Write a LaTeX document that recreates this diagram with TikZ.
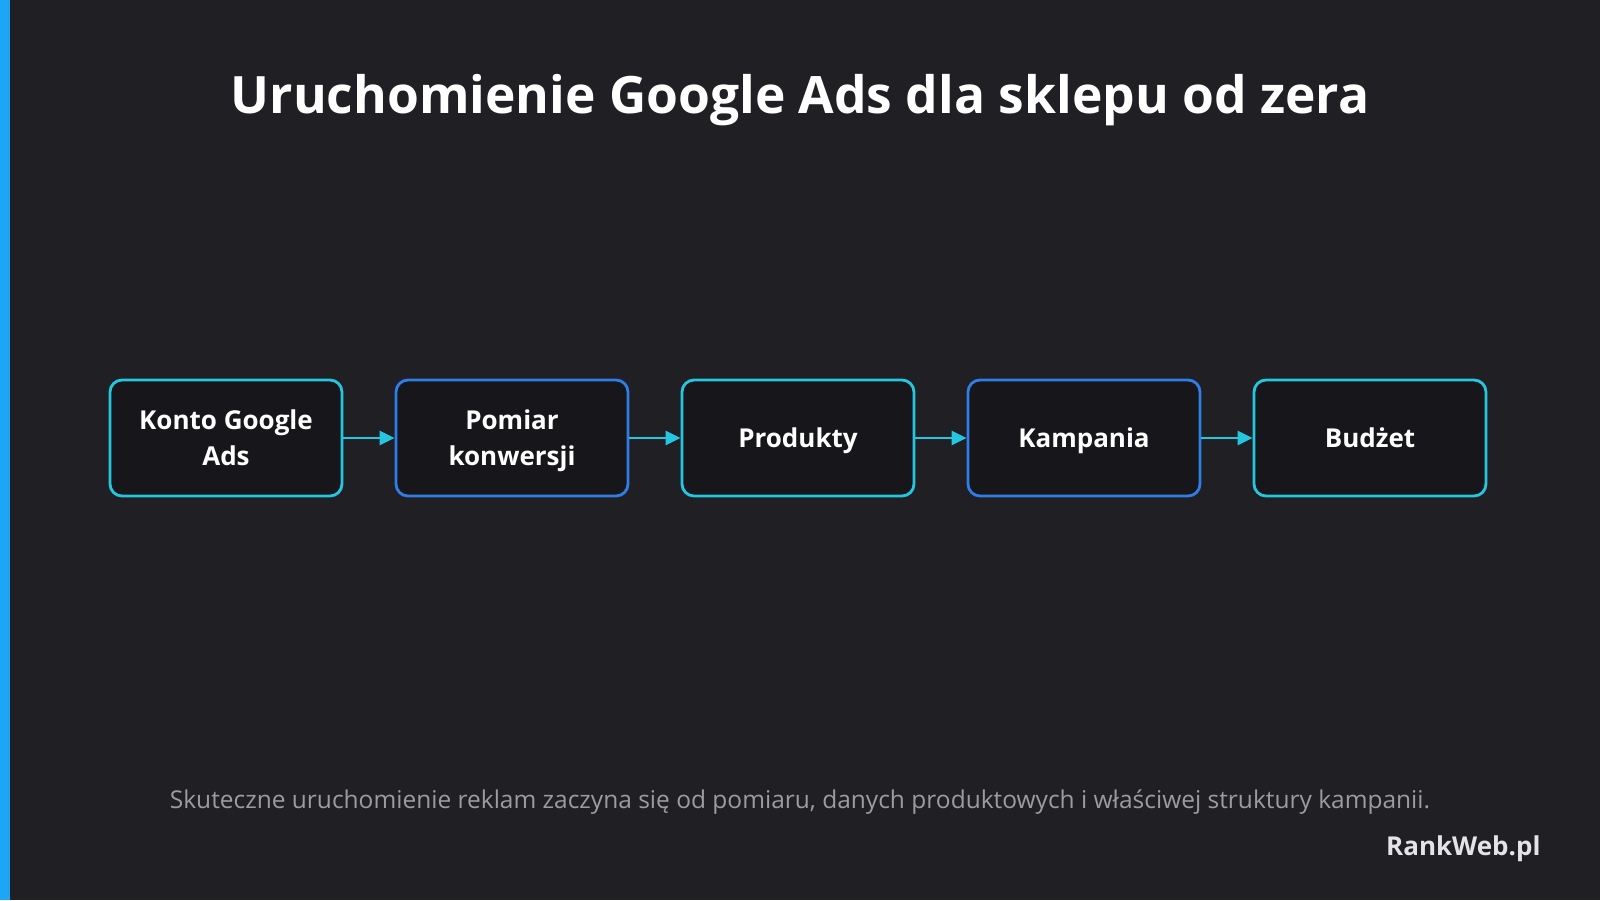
\documentclass[tikz,border=0pt]{standalone}
\usepackage{fontspec}
\setmainfont{Open Sans}
\usepackage{xcolor}
\usepackage{tikz}
\usetikzlibrary{arrows.meta, positioning}

\definecolor{bgdark}{HTML}{202024}
\definecolor{boxfill}{HTML}{17171B}
\definecolor{stepcyan}{HTML}{25C6E0}
\definecolor{stepblue}{HTML}{2F7DE6}
\definecolor{barblue}{HTML}{1DA6F5}
\definecolor{notegray}{HTML}{9B9BA0}
\definecolor{brandgray}{HTML}{E4E4E8}
\newcommand\boxstrut{\rule[-8.8pt]{0pt}{36pt}}

\begin{document}
\begin{tikzpicture}[x=1pt,y=-1pt]
    \tikzset{stage/.style = {shape=rectangle,rounded corners=12pt,draw,line width=2.8pt,fill=boxfill,
        minimum width=232pt,minimum height=116pt,align=center,text=white,font=\fontsize{26}{36}\selectfont\bfseries}}
    \tikzset{edge/.style = {-{Triangle[length=15pt,width=14pt]},line width=2.6pt,draw=stepcyan}}
    % background
    \fill[bgdark] (0,0) rectangle (1600,900);
    \fill[barblue] (0,0) rectangle (10,900);
    \useasboundingbox (0,0) rectangle (1600,900);
    % title
    \node[text=white,font=\fontsize{51.5}{60}\selectfont\bfseries] (title) at (800,100) {Uruchomienie Google Ads dla sklepu od zera};
    % stages
    \node[stage,draw=stepcyan] (konto) at (226,438) {\boxstrut Konto Google\\\boxstrut Ads};
    \node[stage,draw=stepblue] (pomiar) at (512,438) {\boxstrut Pomiar\\\boxstrut konwersji};
    \node[stage,draw=stepcyan] (produkty) at (798,438) {\boxstrut Produkty};
    \node[stage,draw=stepblue] (kampania) at (1084,438) {\boxstrut Kampania};
    \node[stage,draw=stepcyan] (budzet) at (1370,438) {\boxstrut Budżet};
    % edges
    \draw[edge] (konto) to (pomiar);
    \draw[edge] (pomiar) to (produkty);
    \draw[edge] (produkty) to (kampania);
    \draw[edge] (kampania) to (budzet);
    % footer
    \node[text=notegray,font=\fontsize{24.5}{28}\selectfont] (note) at (800,802) {Skuteczne uruchomienie reklam zaczyna się od pomiaru, danych produktowych i właściwej struktury kampanii.};
    \node[text=brandgray,font=\fontsize{26}{30}\selectfont\bfseries,anchor=east] (brand) at (1544,849) {RankWeb.pl};
\end{tikzpicture}
\end{document}
